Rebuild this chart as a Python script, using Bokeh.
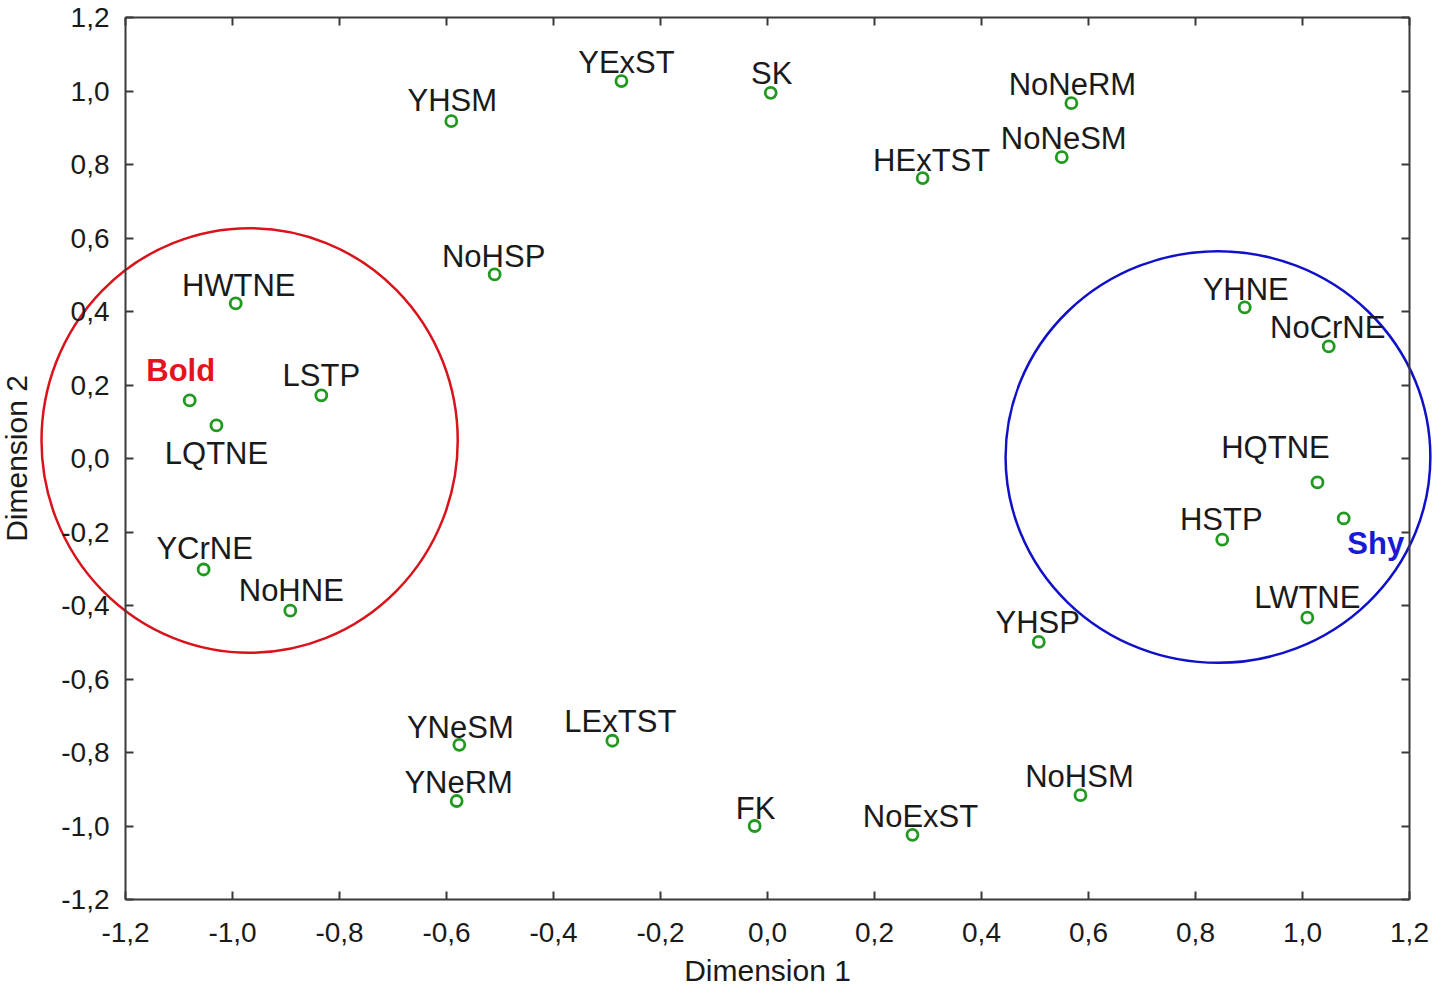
from bokeh.plotting import figure
from bokeh.models import (ColumnDataSource, FixedTicker, CustomJSTickFormatter,
                          LinearAxis, Range1d)
from bokeh.core.properties import value
from bokeh.embed import file_html
from bokeh.resources import INLINE

# ---------------- data ----------------
names = ["YExST", "SK", "YHSM", "NoNeRM", "NoNeSM", "HExTST", "NoHSP", "HWTNE",
         "YHNE", "NoCrNE", "Bold", "LSTP", "LQTNE", "HQTNE", "Shy", "HSTP",
         "YCrNE", "NoHNE", "LWTNE", "YHSP", "LExTST", "YNeSM", "YNeRM",
         "NoHSM", "FK", "NoExST"]
dim1 = [-0.273, 0.006, -0.591, 0.568, 0.550, 0.290, -0.510, -0.994,
        0.892, 1.049, -1.080, -0.834, -1.030, 1.028, 1.077, 0.850,
        -1.054, -0.892, 1.009, 0.507, -0.290, -0.576, -0.581,
        0.585, -0.024, 0.271]
dim2 = [1.027, 0.995, 0.918, 0.967, 0.820, 0.763, 0.501, 0.422,
        0.411, 0.305, 0.158, 0.172, 0.090, -0.065, -0.163, -0.221,
        -0.302, -0.414, -0.433, -0.499, -0.768, -0.779, -0.932,
        -0.916, -1.000, -1.024]

x_ticks = [-1.2, -1.0, -0.8, -0.6, -0.4, -0.2, 0.0, 0.2, 0.4, 0.6, 0.8, 1.0, 1.2]
y_ticks = [-1.2, -1.0, -0.8, -0.6, -0.4, -0.2, 0.0, 0.2, 0.4, 0.6, 0.8, 1.0, 1.2]

group_names = ["Bold", "Shy"]
group_cx = [-0.968, 0.842]
group_cy = [0.049, 0.004]
group_w = [0.778, 0.794]
group_h = [1.156, 1.120]

# ---------------- layout (screen px) ----------------
label_dx = [5, 1, 1, 1, 2, 9, -1, 3, 1, -1, -9, 0, 0, -42, 32, -1,
            1, 1, 0, -1, 8, 1, 2, -1, 1, 8]
label_dy = [-19, -19, -21, -19, -19, -18, -18, -18, -18, -19, -30, -20, 28, -35, 25, -20,
            -21, -20, -20, -19, -19, -17, -19, -19, -18, -18]
group_colors = {"Bold": "#e3151c", "Shy": "#1a1ad6"}
circle_colors = ["#d8131b", "#1010c8"]

colors = [group_colors.get(n, "#1a1a1a") for n in names]
styles = ["bold" if n in group_colors else "normal" for n in names]

FONT = "Liberation Sans"
W, H = 1438, 992
BOX_L, BOX_R, BOX_T, BOX_B = 125, 1409, 17, 899
XMIN, XMAX = x_ticks[0], x_ticks[-1]
YMIN, YMAX = y_ticks[0], y_ticks[-1]
xu = (XMAX - XMIN) / (BOX_R - BOX_L)
yu = (YMAX - YMIN) / (BOX_B - BOX_T)

# frame covers the whole canvas so the group circles are not clipped;
# the plot box is drawn by four axes fixed at the data limits
p = figure(width=W, height=H,
           x_range=Range1d(XMIN - BOX_L * xu, XMAX + (W - BOX_R) * xu),
           y_range=Range1d(YMIN - (H - BOX_B) * yu, YMAX + BOX_T * yu),
           output_backend="svg", toolbar_location=None,
           min_border_left=0, min_border_right=0,
           min_border_top=0, min_border_bottom=0)
p.xgrid.visible = False
p.ygrid.visible = False
p.outline_line_color = None
p.background_fill_color = "white"
p.border_fill_color = "white"

fmt = CustomJSTickFormatter(code="""
var v = Math.abs(tick) < 1e-9 ? 0 : tick;
return v.toFixed(1).replace('.', ',');
""")
blank = CustomJSTickFormatter(code="return '';")

p.add_layout(LinearAxis(), "above")
p.add_layout(LinearAxis(), "right")

for ax in p.xaxis:
    ax.ticker = FixedTicker(ticks=x_ticks)
    ax.bounds = (XMIN, XMAX)
for ax in p.yaxis:
    ax.ticker = FixedTicker(ticks=y_ticks)
    ax.bounds = (YMIN, YMAX)

for ax in list(p.xaxis) + list(p.yaxis):
    ax.formatter = fmt
    ax.axis_line_color = "#3a3a3a"
    ax.axis_line_width = 2
    ax.major_tick_line_color = "#3a3a3a"
    ax.major_tick_line_width = 2
    ax.major_tick_in = 8
    ax.major_tick_out = 0
    ax.minor_tick_line_color = None
    ax.major_label_text_font = FONT
    ax.major_label_text_font_size = "28px"
    ax.major_label_text_color = "#1a1a1a"
    ax.axis_label_text_font = FONT
    ax.axis_label_text_font_size = "30px"
    ax.axis_label_text_font_style = "normal"
    ax.axis_label_text_color = "#1a1a1a"

top = p.above[0]
top.fixed_location = YMAX
top.formatter = blank
right = p.right[0]
right.fixed_location = XMAX
right.formatter = blank

bottom = p.below[0]
bottom.fixed_location = YMIN
bottom.axis_label = "Dimension 1"
bottom.major_label_standoff = 23
bottom.axis_label_standoff = 9
left = p.left[0]
left.fixed_location = XMIN
left.axis_label = "Dimension 2"
left.major_label_standoff = 16
left.axis_label_standoff = 25

# group circles
p.ellipse(x=group_cx, y=group_cy, width=group_w, height=group_h,
          fill_color=None, line_color=circle_colors, line_width=2.5)

src = ColumnDataSource(dict(x=dim1, y=dim2, name=names, dx=label_dx, dy=label_dy,
                            color=colors, style=styles))

p.scatter("x", "y", source=src, marker="circle", size=11, fill_color=None,
          line_color="#1f9a1f", line_width=2.8)

p.text("x", "y", text="name", source=src, x_offset="dx", y_offset="dy",
       text_align="center", text_baseline="middle",
       text_font=value(FONT), text_font_size="31px",
       text_color="color", text_font_style="style")

open("out.html", "w").write(file_html(p, INLINE))
